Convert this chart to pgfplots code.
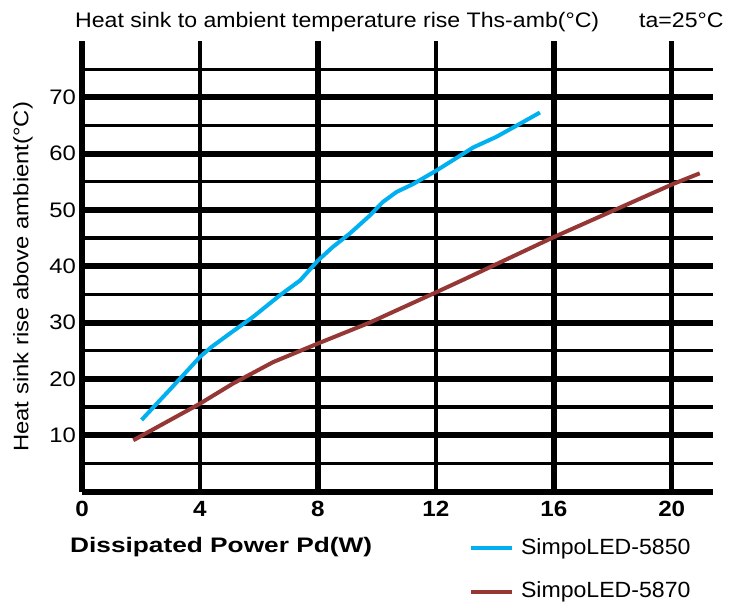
\documentclass[border=0pt]{standalone}
\usepackage{fontspec}
\setmainfont{Liberation Sans}
\newfontfamily\titlefont[FakeStretch=1.1]{Liberation Sans}
\newfontfamily\ylabfont[FakeStretch=1.135]{Liberation Sans}
\newfontfamily\xlabfont[FakeStretch=1.25]{Liberation Sans}
\newfontfamily\xtickfont[FakeStretch=1.1]{Liberation Sans}
\newfontfamily\legfont[FakeStretch=1.05]{Liberation Sans}
\usepackage{pgfplots}
\pgfplotsset{compat=1.18}

\definecolor{led50}{RGB}{0,176,240}
\definecolor{led70}{RGB}{149,55,53}

\pgfplotstableread{
x y
2.02 12.7
3.00 18.2
4.00 23.9
4.40 25.7
5.00 28.0
5.80 31.0
6.70 34.8
7.40 37.5
8.00 41.0
8.50 43.4
9.08 45.8
9.76 49.0
10.20 51.4
10.67 53.2
11.23 54.6
12.02 57.0
13.27 61.1
14.06 63.0
14.85 65.3
15.53 67.3
}\ledA

\pgfplotstableread{
x y
1.74 9.1
4.00 15.6
5.13 19.2
6.49 23.0
8.01 26.3
9.76 30.0
12.02 35.4
12.93 37.6
16.01 45.2
20.04 54.6
20.95 56.5
}\ledB

\begin{document}
\begin{tikzpicture}
\path[use as bounding box] (0pt,0pt) rectangle (738pt,602pt);
\begin{axis}[
    at={(82pt,110.5pt)}, anchor=south west,
    scale only axis,
    width=631pt, height=450.5pt,
    xmin=0, xmax=21.4,
    ymin=0, ymax=80,
    axis line style={draw=none},
    major tick length=0pt, minor tick length=0pt,
    xtick={0,8,16}, xticklabels={0,8,16},
    minor xtick={4,12,20},
    extra x ticks={4,12,20}, extra x tick labels={4,12,20},
    extra x tick style={grid=none},
    ytick={0,10,...,70},
    yticklabels={{},10,20,30,40,50,60,70},
    minor ytick={5,15,...,75},
    grid=both,
    major x grid style={black, line width=6.5pt},
    minor x grid style={black, line width=4.5pt},
    major y grid style={black, line width=6pt},
    minor y grid style={black, line width=3.3pt},
    x tick label style={font=\xtickfont\bfseries\fontsize{22}{24}\selectfont,
        anchor=north, inner sep=0pt, yshift=-9.5pt},
    y tick label style={font=\ylabfont\fontsize{21}{24}\selectfont,
        anchor=east, inner sep=0pt, xshift=-6pt},
    legend style={at={(0.613,-0.103)}, anchor=north west,
        draw=none, fill=none, inner sep=0pt,
        row sep=24pt, column sep=7pt,
        font=\legfont\fontsize{22}{24}\selectfont,
        nodes={inner sep=0pt, text depth=4pt}},
    legend cell align=left,
    legend image code/.code={\draw[#1] (0pt,0pt) -- (41pt,0pt);},
]
\addplot[led50, line width=4pt, line join=round] table {\ledA};
\addlegendentry{SimpoLED-5850}
\addplot[led70, line width=4pt, line join=round] table {\ledB};
\addlegendentry{SimpoLED-5870}
\end{axis}
\node[anchor=base west, inner sep=0pt, font=\titlefont\fontsize{21}{24}\selectfont]
    at (75pt,574.3pt) {Heat sink to ambient temperature rise Ths-amb(°C)};
\node[anchor=base west, inner sep=0pt, font=\titlefont\fontsize{21}{24}\selectfont]
    at (639pt,574.3pt) {ta=25°C};
\node[anchor=base west, inner sep=0pt, rotate=90, font=\ylabfont\fontsize{21}{24}\selectfont]
    at (28.3pt,150pt) {Heat sink rise above ambient(°C)};
\node[anchor=base west, inner sep=0pt, font=\xlabfont\bfseries\fontsize{21}{24}\selectfont]
    at (70pt,50pt) {Dissipated Power Pd(W)};
\end{tikzpicture}
\end{document}
